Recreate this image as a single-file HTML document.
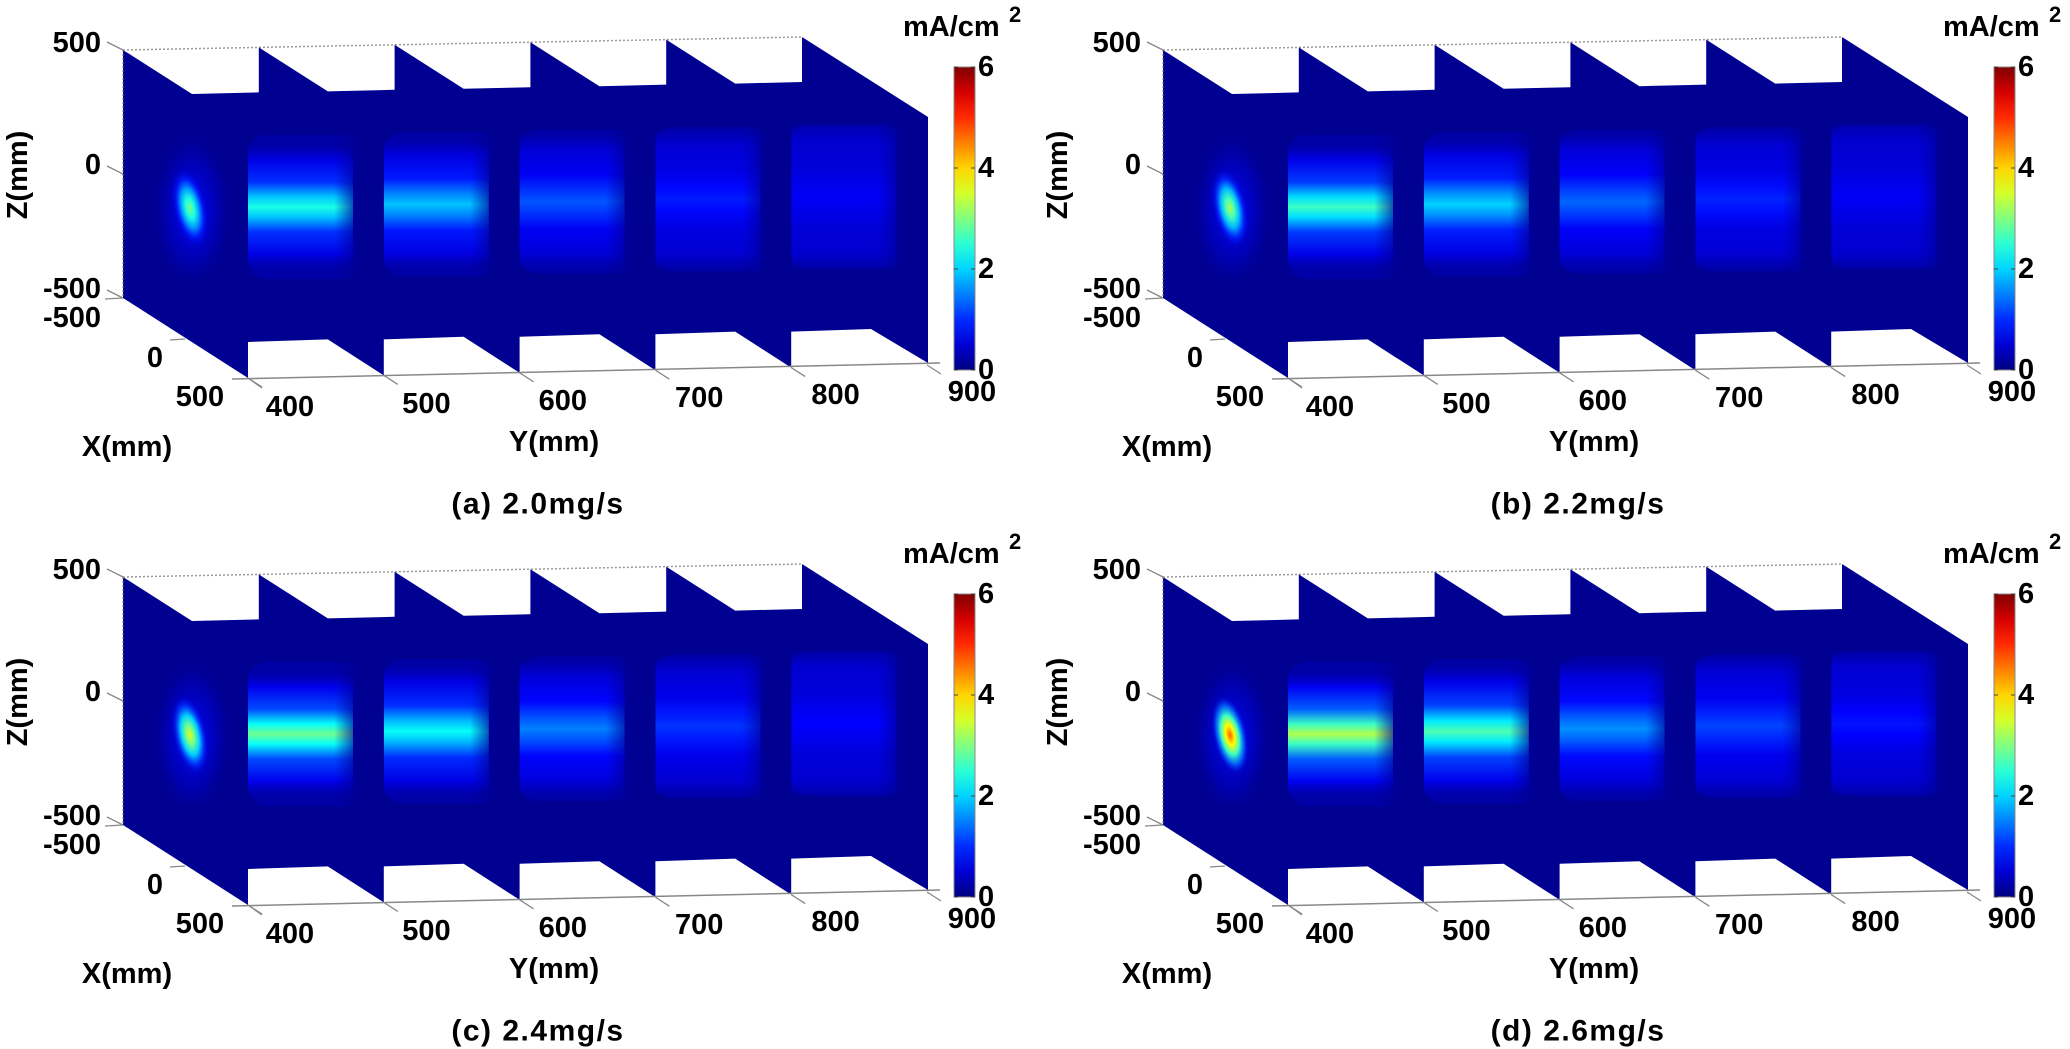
<!DOCTYPE html>
<html><head><meta charset="utf-8">
<style>
html,body{margin:0;padding:0;background:#fff;}
svg{display:block;}
text{font-family:"Liberation Sans",Arial,sans-serif;font-weight:bold;fill:#000;}
</style></head>
<body>
<svg id="s" width="2070" height="1049" viewBox="0 0 2070 1049" xmlns="http://www.w3.org/2000/svg"></svg>
<script>
(function(){
var svg=document.getElementById('s');
function jet(v){var f=Math.max(0,Math.min(1,v/6));
 function c(x){return Math.round(255*Math.max(0,Math.min(1,x)));}
 return 'rgb('+c(1.5-Math.abs(4*f-3))+','+c(1.5-Math.abs(4*f-2))+','+c(1.5-Math.abs(4*f-1))+')';}
var BASE=0.1;
var panels=[
 {ox:0,oy:0,cap:'(a) 2.0mg/s',s0:3.0,b:[2.4,1.9,1.25,0.9,0.7]},
 {ox:1040,oy:0,cap:'(b) 2.2mg/s',s0:3.3,b:[2.6,2.0,1.35,0.95,0.7]},
 {ox:0,oy:527,cap:'(c) 2.4mg/s',s0:3.6,b:[2.9,2.3,1.5,1.05,0.75]},
 {ox:1040,oy:527,cap:'(d) 2.6mg/s',s0:4.7,b:[3.3,2.7,1.6,1.15,0.85]}
];
var defs='<defs>';
defs+='<linearGradient id="cb" x1="0" y1="1" x2="0" y2="0">';
for(var k=0;k<=12;k++){defs+='<stop offset="'+(k/12)+'" stop-color="'+jet(k/2)+'"/>';}
defs+='</linearGradient>';
defs+='<linearGradient id="hf" x1="0" y1="0" x2="1" y2="0"><stop offset="0" stop-color="#fff"/><stop offset="0.75" stop-color="#fff"/><stop offset="1" stop-color="#000"/></linearGradient>';
var body='';
panels.forEach(function(P,pi){
 var bx=[],ty=[],by=[];
 for(var i=0;i<6;i++){bx.push(123+135.8*i);ty.push(50-2.6*i);by.push(298-2.6*i);}
 var pts=[];
 for(var i=0;i<6;i++){
  pts.push([bx[i],ty[i]]);
  if(i<5){pts.push([bx[i]+69,ty[i]+44]);pts.push([bx[i+1],ty[i+1]+45]);}
  else{pts.push([bx[i]+126,ty[i]+80]);}
 }
 pts.push([bx[5]+126,by[5]+78]);
 for(var i=5;i>=1;i--){
  pts.push([bx[i]+69,by[i]+44]);
  pts.push([bx[i-1]+125,by[i-1]+44]);
  pts.push([bx[i-1]+125,by[i-1]+80]);
 }
 pts.push([bx[0],by[0]]);
 var ps=pts.map(function(p){return p[0].toFixed(1)+','+p[1].toFixed(1);}).join(' ');
 var g='<g transform="translate('+P.ox+','+P.oy+')">';
 g+='<clipPath id="cp'+pi+'"><polygon points="'+ps+'"/></clipPath>';
 g+='<line x1="123" y1="50" x2="'+(bx[5])+'" y2="'+ty[5]+'" stroke="#999" stroke-width="1.5" stroke-dasharray="2,2"/>';
 g+='<polygon points="'+ps+'" fill="'+jet(BASE)+'"/>';
 g+='<g clip-path="url(#cp'+pi+')">';
 var id='p'+pi;
 defs+='<radialGradient id="h'+id+'"><stop offset="0" stop-color="'+jet(0.8)+'"/><stop offset="0.6" stop-color="'+jet(0.45)+'" stop-opacity="0.6"/><stop offset="1" stop-color="'+jet(BASE)+'" stop-opacity="0"/></radialGradient>';
 g+='<ellipse cx="192" cy="210" rx="42" ry="82" fill="url(#h'+id+')"/>';
 defs+='<radialGradient id="r'+id+'"><stop offset="0" stop-color="'+jet(P.s0)+'"/><stop offset="0.25" stop-color="'+jet(P.s0*0.8)+'"/><stop offset="0.5" stop-color="'+jet(P.s0*0.55)+'"/><stop offset="0.75" stop-color="'+jet(P.s0*0.3)+'" stop-opacity="0.8"/><stop offset="1" stop-color="'+jet(0.6)+'" stop-opacity="0"/></radialGradient>';
 g+='<ellipse cx="190" cy="208" rx="17" ry="40" transform="rotate(-12 190 208)" fill="url(#r'+id+')"/>';
 for(var j=0;j<5;j++){
  var x0=248+135.8*j, p=P.b[j], cy=207-2.6*j;
  var gid='b'+pi+'_'+j;
  var lo=0.45, w=[0,0.08,0.3,0.75,1,0.75,0.3,0.08,0], off=[0,0.12,0.3,0.42,0.5,0.58,0.7,0.88,1];
  defs+='<linearGradient id="'+gid+'" x1="0" y1="0" x2="0" y2="1">';
  for(var q=0;q<9;q++){defs+='<stop offset="'+off[q]+'" stop-color="'+jet(lo+(p-lo)*w[q])+'"'+((q==0||q==8)?' stop-opacity="0"':'')+'/>';}
  defs+='</linearGradient>';
  g+='<mask id="m'+gid+'"><rect x="'+x0+'" y="'+(cy-80)+'" width="115" height="160" fill="url(#hf)"/></mask>';
  g+='<rect x="'+x0+'" y="'+(cy-72)+'" width="115" height="144" rx="18" fill="'+jet(0.4)+'" opacity="0.45" mask="url(#m'+gid+')"/>';
  g+='<rect x="'+x0+'" y="'+(cy-62-3*j)+'" width="105" height="'+(124+6*j)+'" fill="url(#'+gid+')" mask="url(#m'+gid+')"/>';
 }
 g+='</g>';
 g+='<line x1="123" y1="50" x2="123" y2="298" stroke="#777" stroke-width="1" stroke-dasharray="2,2"/>';
 g+='<line x1="232" y1="379" x2="'+(bx[5]+138)+'" y2="'+(by[5]+78)+'" stroke="#888" stroke-width="1.5"/>';
 for(var i=0;i<6;i++){var tx=bx[i]+125,tyy=by[i]+80;g+='<line x1="'+tx+'" y1="'+tyy+'" x2="'+(tx+14)+'" y2="'+(tyy+9)+'" stroke="#888" stroke-width="1.3"/>';}
 g+='<line x1="123" y1="50" x2="107" y2="42" stroke="#888" stroke-width="1.3"/>';
 g+='<line x1="123" y1="174" x2="107" y2="166" stroke="#888" stroke-width="1.3"/>';
 g+='<line x1="123" y1="298" x2="107" y2="290" stroke="#888" stroke-width="1.3"/>';
 g+='<line x1="123" y1="298" x2="105" y2="299" stroke="#888" stroke-width="1.3"/>';
 g+='<line x1="170" y1="340" x2="185" y2="339" stroke="#888" stroke-width="1.3"/>';
 g+='<line x1="248" y1="378" x2="262" y2="388" stroke="#888" stroke-width="1.3"/>';
 var fs=29;
 function T(x,y,s,a,size){return '<text x="'+x+'" y="'+y+'" font-size="'+(size||fs)+'" text-anchor="'+(a||'middle')+'" dominant-baseline="central">'+s+'</text>';}
 g+=T(101,43,'500','end')+T(101,165,'0','end')+T(101,289,'-500','end');
 g+=T(101,318,'-500','end')+T(155,358,'0')+T(200,397,'500');
 var yl=['400','500','600','700','800','900'];
 for(var i=0;i<6;i++){g+=T(290+136.4*i,407-3*i,yl[i]);}
 g+=T(127,447,'X(mm)')+T(554,442,'Y(mm)');
 g+='<text x="18" y="175" font-size="'+fs+'" text-anchor="middle" dominant-baseline="central" transform="rotate(-90 18 175)">Z(mm)</text>';
 g+='<text x="538" y="504" font-size="30" text-anchor="middle" dominant-baseline="central" letter-spacing="1.5">'+P.cap+'</text>';
 g+='<rect x="954" y="67" width="21" height="303" fill="url(#cb)" stroke="#888" stroke-width="1"/>';
 var cl=['6','4','2','0'];
 for(var i=0;i<4;i++){var yy=67+101*i;g+='<line x1="954" y1="'+yy+'" x2="958" y2="'+yy+'" stroke="#444"/><line x1="971" y1="'+yy+'" x2="975" y2="'+yy+'" stroke="#444"/>';g+=T(978,yy,cl[i],'start');}
 g+='<text x="903" y="36" font-size="29">mA/cm</text><text x="1009" y="22" font-size="22">2</text>';
 g+='</g>';
 body+=g;
});
defs+='</defs>';
svg.innerHTML=defs+body;
})();
</script>
</body></html>
